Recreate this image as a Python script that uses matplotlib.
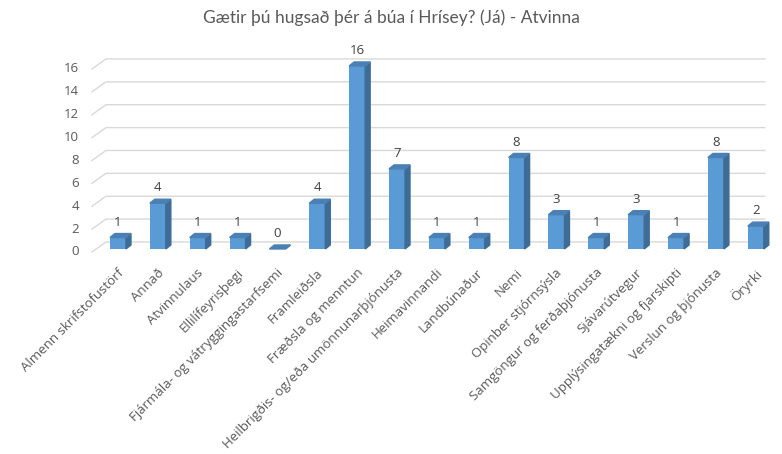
import matplotlib.pyplot as plt
from matplotlib.patches import Polygon

plt.rcParams['font.family'] = ['Open Sans', 'DejaVu Sans']

categories = ['Almenn skrifstofustörf', 'Annað', 'Atvinnulaus', 'Ellilífeyrisþegi',
              'Fjármála- og vátryggingastarfsemi', 'Framleiðsla', 'Fræðsla og menntun',
              'Heilbrigðis- og/eða umönnunarþjónusta', 'Heimavinnandi', 'Landbúnaður',
              'Nemi', 'Opinber stjórnsýsla', 'Samgöngur og ferðaþjónusta', 'Sjávarútvegur',
              'Upplýsingatækni og fjarskipti', 'Verslun og þjónusta', 'Öryrki']
values = [1, 4, 1, 1, 0, 4, 16, 7, 1, 1, 8, 3, 1, 3, 1, 8, 2]
yticks = [0, 2, 4, 6, 8, 10, 12, 14, 16]
title = 'Gætir þú hugsað þér á búa í Hrísey? (Já) - Atvinna'

front_c = '#5B9BD5'
side_c = '#3D6C96'
top_c = '#4A80B4'
grid_c = '#D9D9D9'
text_c = '#595959'

fig = plt.figure(figsize=(7.82, 4.54), dpi=100)
ax = fig.add_axes([80.1 / 782, 0.4264, 699.6 / 782, 0.4661])
ax.set_xlim(-0.95, 16.6)
ax.set_ylim(-1.0, 17.5)
ax.axis('off')

# pixel -> data unit helpers for the pseudo 3D look
ux = 1 / 39.86
uy = 1 / 11.44

# back wall gridlines
x_front = -0.652
for v in yticks:
    yf = v - 3 * uy
    yb = yf + 10 * uy
    ax.plot([x_front, x_front + 14 * ux, 16.23], [yf, yb, yb], color=grid_c, lw=1, zorder=1)
    ax.text(-0.98, yf, str(v), ha='right', va='center', fontsize=9.5, color=text_c)

# bars with side and top faces
w = 16 * ux
dx = 5 * ux
dy = 4 * uy
for i, v in enumerate(values):
    x0 = i - w / 2
    ax.bar(i, v, width=w, color=front_c, zorder=3)
    ax.add_patch(Polygon([(x0 + w, 0), (x0 + w + dx, dy), (x0 + w + dx, v + dy), (x0 + w, v)],
                         closed=True, color=side_c, zorder=3))
    ax.add_patch(Polygon([(x0, v), (x0 + dx, v + dy), (x0 + w + dx, v + dy), (x0 + w, v)],
                         closed=True, color=top_c, zorder=3))
    ax.text(i, v + 1.35, str(v), ha='center', va='center', fontsize=9.5, color='#404040')
    ax.text(i - 0.02, -1.5, categories[i], ha='right', va='top', rotation=45,
            rotation_mode='anchor', fontsize=9.5, color=text_c)

fig.text(0.5, 0.96, title, ha='center', va='center', fontsize=12.5, color=text_c,
         family=['Lato', 'DejaVu Sans'])

fig.savefig('out.png', dpi=100)
